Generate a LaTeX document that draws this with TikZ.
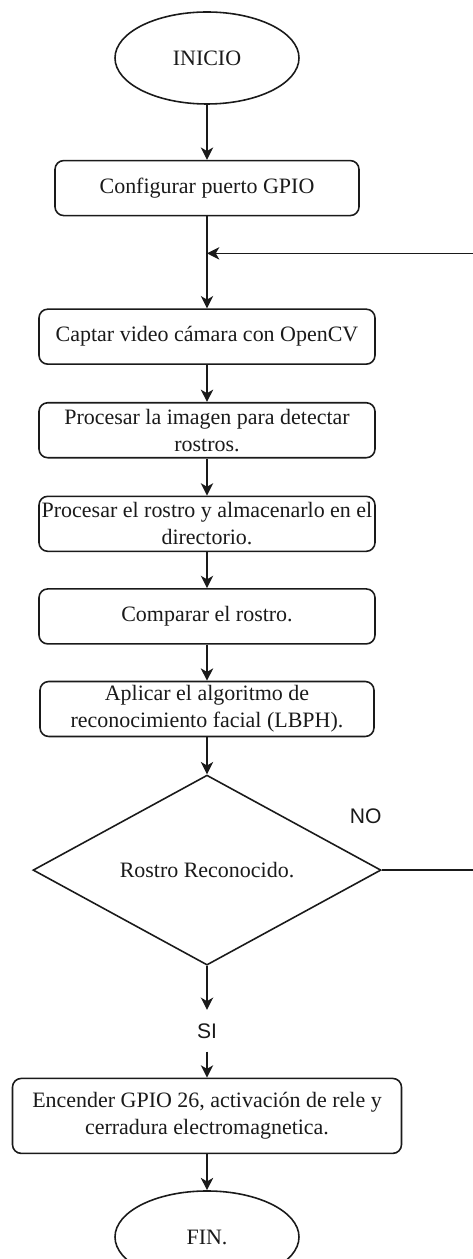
\documentclass[tikz,border=0pt]{standalone}
\usepackage{fontspec}
\setmainfont{Liberation Serif}
\newfontfamily\arialfont{Liberation Sans}
\usetikzlibrary{positioning, shapes.geometric, arrows.meta, calc}
\definecolor{flujo}{HTML}{1A1A1A}

\begin{document}
\begin{tikzpicture}[
  proceso/.style={draw=flujo, rounded corners=5pt, line width=0.9pt, text=flujo, font=\fontsize{12.5}{15.4}\selectfont, minimum width=6.72cm, minimum height=1.1cm, inner sep=1pt, align=center},
  terminal/.style={draw=flujo, ellipse, line width=0.9pt, text=flujo, font=\fontsize{12.5}{15.4}\selectfont, minimum width=3.68cm, minimum height=1.84cm},
  decision/.style={draw=flujo, diamond, line width=0.9pt, text=flujo, font=\fontsize{12.5}{15.4}\selectfont, minimum width=6.96cm, minimum height=3.68cm, inner sep=0pt},
  etiq/.style={text=flujo, font=\arialfont\fontsize{12}{14}\selectfont},
  flecha/.style={-{Stealth[length=7pt, width=7pt, inset=2pt]}, line width=0.9pt, draw=flujo}]
  \useasboundingbox (-4.14,1.16) rectangle (5.30,-24.02);
  \node[terminal] (ini) at (0,0) {INICIO};
  \node[proceso, minimum width=6.08cm, below=1.1cm of ini] (conf) {Configurar puerto GPIO};
  \coordinate[below=0.74cm of conf] (loopin);
  \node[proceso, below=1.84cm of conf] (captar) {Captar video cámara con OpenCV};
  \node[proceso, below=0.74cm of captar] (procimg) {Procesar la imagen para detectar\\rostros.};
  \node[proceso, below=0.74cm of procimg] (procros) {Procesar el rostro y almacenarlo en el\\directorio.};
  \node[proceso, below=0.72cm of procros] (comp) {Comparar el rostro.};
  \node[proceso, minimum width=6.68cm, below=0.72cm of comp] (apl) {Aplicar el algoritmo de\\reconocimiento facial (LBPH).};
  \node[decision, below=0.74cm of apl] (dec) {Rostro Reconocido.};
  \node[etiq, minimum height=0.82cm, inner sep=0pt, below=0.88cm of dec] (si) {SI};
  \node[proceso, minimum width=7.78cm, minimum height=1.5cm, below=0.52cm of si] (enc) {Encender GPIO 26, activación de rele y\\cerradura electromagnetica.};
  \node[terminal, below=0.72cm of enc] (fin) {FIN.};
  \node[etiq] (no) at ($(dec.east)+(-0.32,1.08)$) {NO};
  \draw[flecha] (ini) -- (conf);
  \draw[flecha] (conf) -- (captar);
  \draw[flecha] (captar) -- (procimg);
  \draw[flecha] (procimg) -- (procros);
  \draw[flecha] (procros) -- (comp);
  \draw[flecha] (comp) -- (apl);
  \draw[flecha] (apl) -- (dec);
  \draw[flecha] (dec) -- (si);
  \draw[flecha] (si) -- (enc);
  \draw[flecha] (enc) -- (fin);
  \draw[flecha] (dec.east) -- ++(2.1,0) |- (loopin);
\end{tikzpicture}
\end{document}
